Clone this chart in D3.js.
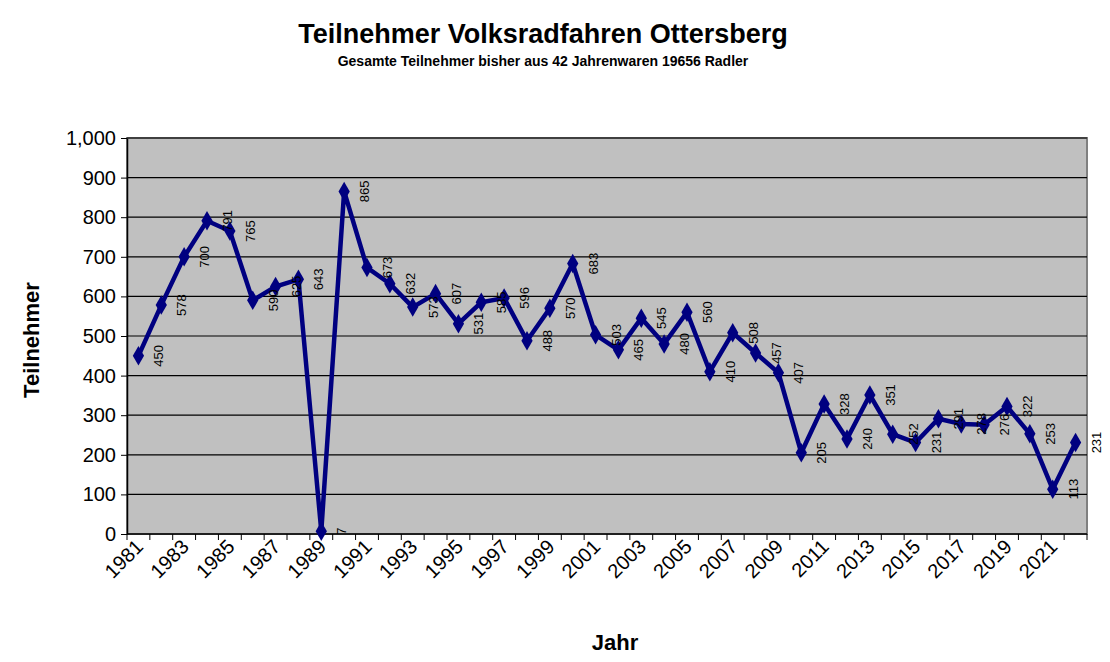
<!DOCTYPE html><html><head><meta charset="utf-8"><script src="https://cdn.jsdelivr.net/npm/d3@7"></script>
<style>body{margin:0;background:#fff}text{font-family:Arial,"Liberation Sans",sans-serif}</style></head><body>
<svg id="c" width="1110" height="662"></svg>
<script>
const years = d3.range(1981, 2023);
const values = [450,578,700,791,765,590,625,643,7,865,673,632,573,607,531,585,596,488,570,683,503,465,545,480,560,410,508,457,407,205,328,240,351,252,231,291,278,276,322,253,113,231];
const yTicks = [0,100,200,300,400,500,600,700,800,900,1000];
const svg = d3.select("#c");
const L=127,R=1087,T=138,B=534;
const x = d3.scaleBand().domain(years).range([L,R]);
const y = d3.scaleLinear().domain([0,1000]).range([B,T]);
const cx = d=>x(d)+x.bandwidth()/2;
svg.append("rect").attr("x",L).attr("y",T).attr("width",R-L).attr("height",B-T).attr("fill","#c0c0c0").attr("stroke","#808080").attr("stroke-width",2);
svg.append("g").selectAll("line").data(yTicks.slice(1)).join("line").attr("x1",L).attr("x2",R).attr("y1",y).attr("y2",y).attr("stroke","#000").attr("stroke-width",1.2);
const ya = svg.append("g").attr("transform",`translate(${L},0)`).call(d3.axisLeft(y).tickValues(yTicks).tickSize(6).tickSizeOuter(0));
ya.selectAll("text").attr("font-size",20).attr("fill","#000").attr("dx",-2);
ya.select(".domain").attr("stroke","#000").attr("stroke-width",1.5);
const xa = svg.append("g").attr("transform",`translate(0,${B})`);
xa.append("line").attr("x1",L).attr("x2",R).attr("stroke","#000").attr("stroke-width",1.5);
xa.selectAll("line.t").data(d3.range(43)).join("line").attr("class","t").attr("x1",i=>L+i*x.step()).attr("x2",i=>L+i*x.step()).attr("y1",0).attr("y2",6).attr("stroke","#000");
xa.selectAll("text").data(years.filter((d,i)=>i%2===0)).join("text").attr("font-size",20)
 .attr("text-anchor","end").attr("transform",d=>`translate(${cx(d)+6},${14}) rotate(-45)`).text(d=>d);
svg.append("path").datum(values).attr("fill","none").attr("stroke","#000080").attr("stroke-width",4.5).attr("stroke-linejoin","miter")
 .attr("d",d3.line().x((d,i)=>cx(years[i])).y(d=>y(d)));
svg.append("g").selectAll("path").data(values).join("path").attr("fill","#000080")
 .attr("transform",(d,i)=>`translate(${cx(years[i])},${y(d)})`).attr("d",d3.symbol(d3.symbolDiamond,110));
svg.append("g").selectAll("text").data(values).join("text").attr("font-size",13).attr("text-anchor","middle")
 .attr("transform",(d,i)=>`translate(${cx(years[i])+25},${y(d)}) rotate(-90)`).text(d=>d);
svg.append("text").attr("x",543).attr("y",43).attr("text-anchor","middle").attr("font-size",27).attr("font-weight","bold").text("Teilnehmer Volksradfahren Ottersberg");
svg.append("text").attr("x",543).attr("y",66).attr("text-anchor","middle").attr("font-size",14).attr("font-weight","bold").text("Gesamte Teilnehmer bisher aus 42 Jahrenwaren 19656 Radler");
svg.append("text").attr("x",615).attr("y",650).attr("text-anchor","middle").attr("font-size",22).attr("font-weight","bold").text("Jahr");
svg.append("text").attr("transform","translate(39,340) rotate(-90)").attr("text-anchor","middle").attr("font-size",22).attr("font-weight","bold").text("Teilnehmer");
</script></body></html>
